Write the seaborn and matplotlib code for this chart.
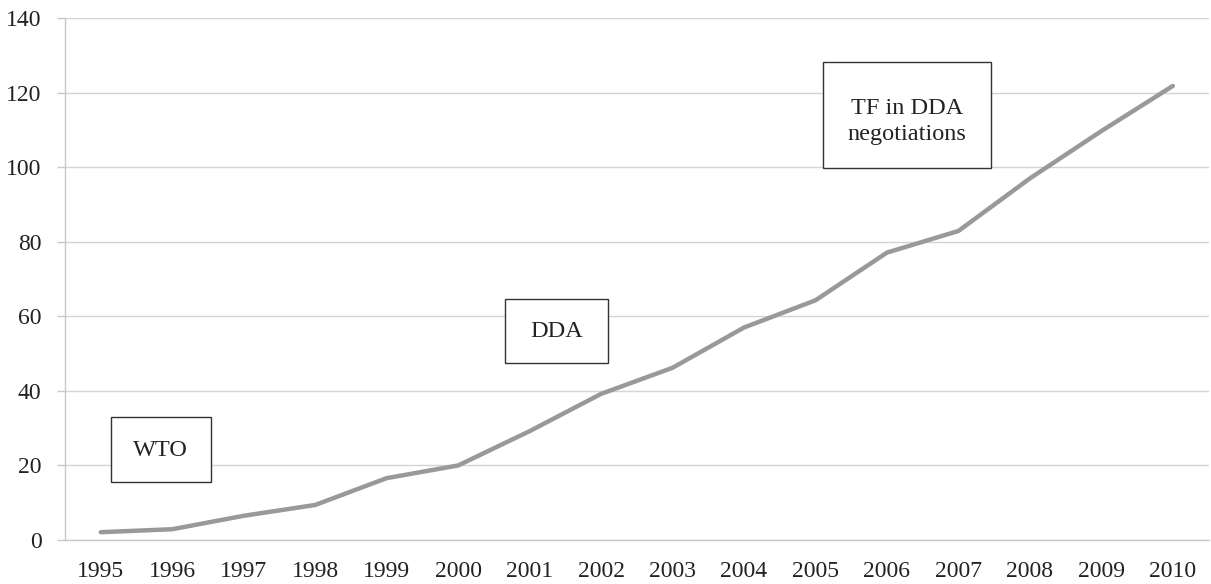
import matplotlib
matplotlib.use("Agg")
import matplotlib.pyplot as plt
import seaborn as sns
import numpy as np
import pandas as pd
from matplotlib.patches import Rectangle

years = ["1995", "1996", "1997", "1998", "1999", "2000", "2001", "2002",
         "2003", "2004", "2005", "2006", "2007", "2008", "2009", "2010"]
values = [2.1, 2.9, 6.5, 9.4, 16.6, 20.0, 29.2, 39.2,
          46.2, 57.0, 64.3, 77.1, 82.9, 97.0, 109.7, 121.8]
y_ticks = [0, 20, 40, 60, 80, 100, 120, 140]

# annotation boxes: (text, x-left, x-right, y-bottom, y-top, text-y) in data units
notes = [
    ("WTO", 0.14, 1.54, 15.5, 32.9, 24.0),
    ("DDA", 5.66, 7.09, 47.6, 64.7, 56.0),
    ("TF in DDA\nnegotiations", 10.11, 12.46, 99.7, 128.3, 112.3),
]

sns.set_theme(style="white")
plt.rcParams['font.family'] = ['Liberation Serif', 'DejaVu Serif']

df = pd.DataFrame({"pos": np.arange(len(years)), "value": values})

fig = plt.figure(figsize=(12.11, 5.84), dpi=100)
ax = fig.add_axes([0.0537, 0.0753, 0.9443, 0.8937])

sns.lineplot(data=df, x="pos", y="value", ax=ax, color="#999999",
             linewidth=3.2, solid_capstyle="round", solid_joinstyle="round",
             zorder=3)

ax.set_xlim(-0.5, len(years) - 0.5)
ax.set_ylim(0, 140)
ax.set_yticks(y_ticks)
ax.set_yticklabels([str(v) for v in y_ticks], fontsize=17, color="#222222")
ax.set_xticks(np.arange(len(years)))
ax.set_xticklabels(years, fontsize=17, color="#222222")
ax.set_xticks(np.arange(len(years) + 1) - 0.5, minor=True)
ax.tick_params(axis="x", which="major", length=0, pad=15)
ax.tick_params(axis="x", which="minor", length=6, color="#c8c8c8", width=1, direction="out")
ax.tick_params(axis="y", which="major", length=6, color="#c8c8c8", width=1,
               direction="out", pad=11, left=True)
ax.grid(axis="y", color="#d4d4d4", linewidth=1.0, zorder=0)
ax.grid(axis="x", visible=False)
ax.set_xlabel("")
ax.set_ylabel("")
for s in ["top", "right"]:
    ax.spines[s].set_visible(False)
for s in ["left", "bottom"]:
    ax.spines[s].set_color("#c8c8c8")
    ax.spines[s].set_linewidth(1.0)

for text, x0, x1, y0, y1, ty in notes:
    ax.add_patch(Rectangle((x0, y0), x1 - x0, y1 - y0, facecolor="white",
                           edgecolor="#333333", linewidth=1.0, zorder=4))
    ax.text((x0 + x1) / 2, ty, text, ha="center", va="center",
            fontsize=17.5, color="#222222", zorder=5, linespacing=1.3)

fig.savefig("out.png", dpi=100)
